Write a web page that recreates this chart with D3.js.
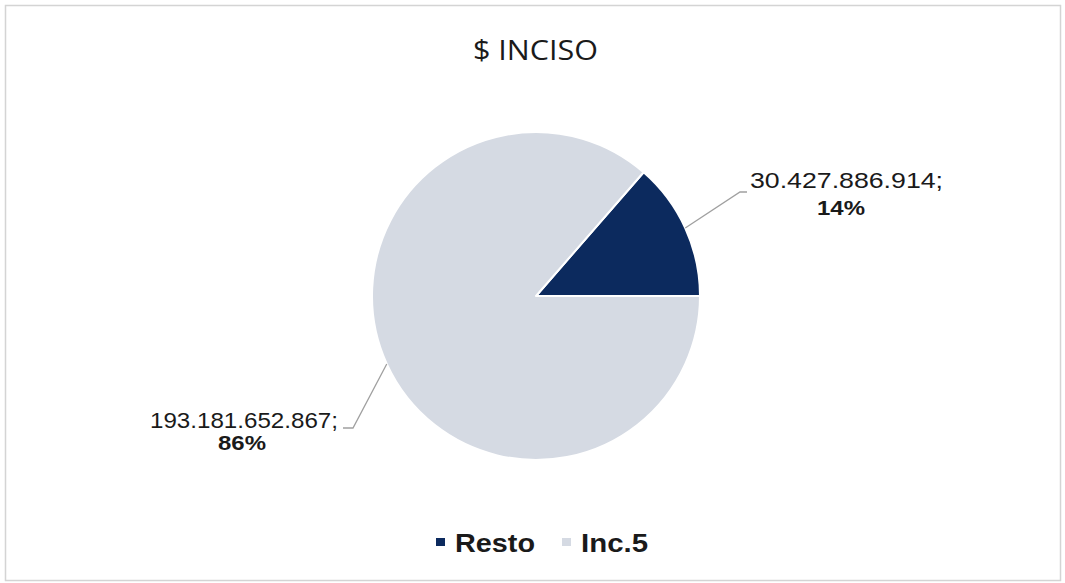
<!DOCTYPE html>
<html>
<head>
<meta charset="utf-8">
<script src="https://d3js.org/d3.v7.min.js"></script>
<style>
  body { margin: 0; background: #fff; }
  text { font-family: "Liberation Sans", Arial, sans-serif; fill: #1a1a1a; }
  .title { font-family: "Open Sans", sans-serif; }
</style>
</head>
<body>
<svg width="1065" height="583"></svg>
<script>
// data
var categories = ["Resto", "Inc.5"];
var values = [30427886914, 193181652867];
var valueLabels = ["30.427.886.914;", "193.181.652.867;"];
var pctLabels = ["14%", "86%"];
var colors = ["#0c2a5e", "#d5dae3"];

var svg = d3.select("svg");

// frame
svg.append("rect")
    .attr("x", 5.5).attr("y", 5.5)
    .attr("width", 1055).attr("height", 575)
    .attr("fill", "#fff")
    .attr("stroke", "#d4d4d4")
    .attr("stroke-width", 1.5);

svg.append("text")
    .attr("class", "title")
    .attr("x", 473).attr("y", 60)
    .attr("font-size", 28)
    .attr("textLength", 125)
    .attr("lengthAdjust", "spacingAndGlyphs")
    .text("$ INCISO");

var cx = 536, cy = 296, r = 164;

// Resto ends at 3 o'clock, so start the pie there with Inc.5 going clockwise
var total = d3.sum(values);
var restoAngle = values[0] / total * 2 * Math.PI;
var pie = d3.pie().sort(null)
    .startAngle(Math.PI / 2 - restoAngle)
    .endAngle(Math.PI / 2 - restoAngle + 2 * Math.PI);

var arc = d3.arc().innerRadius(0).outerRadius(r);

var g = svg.append("g").attr("transform", "translate(" + cx + "," + cy + ")");

var arcs = pie(values);

g.selectAll("path")
  .data(arcs)
  .enter().append("path")
    .attr("d", arc)
    .attr("fill", function(d, i) { return colors[i]; })
    .attr("stroke", "#fff")
    .attr("stroke-width", 2)
    .attr("stroke-linejoin", "round");

// labels with leader lines (offsets from pie centre)
var labelPos = [
  { elbow: [204, -104], end: [211, -104], tx: 214, ty: -108, w: 193, pctx: 305, pty: -81 },
  { elbow: [-183, 132], end: [-193, 132], tx: -386, ty: 132, w: 188, pctx: -294, pty: 154 }
];

arcs.forEach(function(d, i) {
  var mid = (d.startAngle + d.endAngle) / 2;
  var p0 = [Math.sin(mid) * r, -Math.cos(mid) * r];
  var lp = labelPos[i];
  g.append("path")
      .attr("d", d3.line()([p0, lp.elbow, lp.end]))
      .attr("fill", "none")
      .attr("stroke", "#a0a0a0")
      .attr("stroke-width", 1.3);

  g.append("text")
      .attr("x", lp.tx).attr("y", lp.ty)
      .attr("font-size", 22)
      .attr("textLength", lp.w)
      .attr("lengthAdjust", "spacingAndGlyphs")
      .text(valueLabels[i]);
  g.append("text")
      .attr("x", lp.pctx).attr("y", lp.pty)
      .attr("text-anchor", "middle")
      .attr("font-size", 21)
      .attr("font-weight", "bold")
      .attr("textLength", 48)
      .attr("lengthAdjust", "spacingAndGlyphs")
      .text(pctLabels[i]);
});

// legend
var legend = svg.append("g").attr("transform", "translate(0,552)");
var legX = [436, 562];
var legW = [80, 67];
categories.forEach(function(c, i) {
  legend.append("rect")
      .attr("x", legX[i]).attr("y", -14)
      .attr("width", 9).attr("height", 8)
      .attr("fill", colors[i]);
  legend.append("text")
      .attr("x", legX[i] + 19).attr("y", 0)
      .attr("font-size", 26)
      .attr("font-weight", "bold")
      .attr("textLength", legW[i])
      .attr("lengthAdjust", "spacingAndGlyphs")
      .text(c);
});
</script>
</body>
</html>
